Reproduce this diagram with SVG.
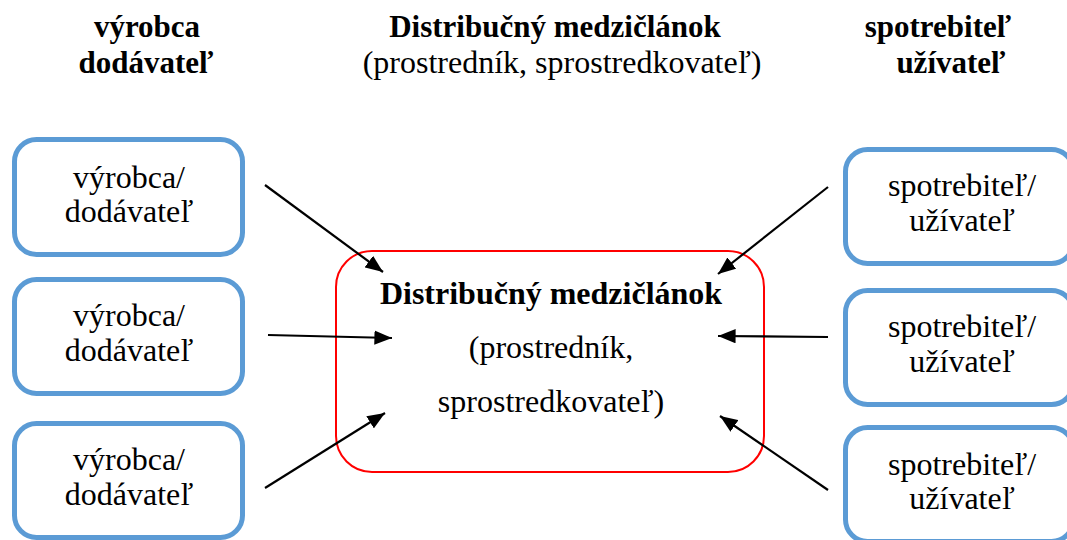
<svg xmlns="http://www.w3.org/2000/svg" width="1067" height="540" viewBox="0 0 1067 540">
<style>
text{font-family:"Liberation Serif","Times New Roman",serif;font-size:32px;fill:#000;text-anchor:middle}
.b{font-weight:bold}
.hb{font-weight:bold;font-size:31px}
.box{fill:#fff;stroke:#5B9BD5;stroke-width:5}
.mid{fill:#fff;stroke:#FF0000;stroke-width:2}
.arr{stroke:#000;stroke-width:2.2;fill:none;marker-end:url(#ah)}
</style>
<defs>
<marker id="ah" viewBox="0 0 10 10" refX="10" refY="5" markerWidth="8" markerHeight="6.5" orient="auto" markerUnits="strokeWidth" preserveAspectRatio="none">
<path d="M0,0 L10,5 L0,10 z" fill="#000"/>
</marker>
</defs>
<rect width="1067" height="540" fill="#fff"/>
<g id="headers">
<text class="hb" x="147" y="37">výrobca</text>
<text class="hb" x="146" y="73">dodávateľ</text>
<text class="hb" x="555" y="37">Distribučný medzičlánok</text>
<text x="562" y="73">(prostredník, sprostredkovateľ)</text>
<text class="hb" x="938" y="37">spotrebiteľ</text>
<text class="hb" x="951" y="73">užívateľ</text>
</g>
<g id="prod1"><rect class="box" x="14.5" y="139.5" width="228" height="115" rx="22"/><text x="129" y="188">výrobca/</text><text x="129" y="222">dodávateľ</text></g>
<g id="prod2"><rect class="box" x="14.5" y="279.5" width="228" height="114" rx="22"/><text x="129" y="326">výrobca/</text><text x="129" y="361">dodávateľ</text></g>
<g id="prod3"><rect class="box" x="14.5" y="423.5" width="228" height="114" rx="22"/><text x="129" y="470">výrobca/</text><text x="129" y="505">dodávateľ</text></g>
<g id="cons1"><rect class="box" x="845.5" y="149.5" width="228" height="114" rx="22"/><text x="962" y="196">spotrebiteľ/</text><text x="962" y="231">užívateľ</text></g>
<g id="cons2"><rect class="box" x="845.5" y="290.5" width="228" height="114" rx="22"/><text x="962" y="337">spotrebiteľ/</text><text x="962" y="372">užívateľ</text></g>
<g id="cons3"><rect class="box" x="845.5" y="427.5" width="228" height="114" rx="22"/><text x="962" y="475">spotrebiteľ/</text><text x="962" y="509">užívateľ</text></g>
<g id="distributor"><rect class="mid" x="336" y="251" width="428" height="221" rx="36"/>
<text class="b" x="551" y="304">Distribučný medzičlánok</text>
<text x="551" y="358">(prostredník,</text>
<text x="551" y="412">sprostredkovateľ)</text></g>
<g id="connectors">
<line class="arr" x1="265" y1="185" x2="383" y2="272"/>
<line class="arr" x1="268" y1="335" x2="392" y2="338"/>
<line class="arr" x1="265" y1="488" x2="385" y2="413"/>
<line class="arr" x1="828" y1="187" x2="718" y2="274"/>
<line class="arr" x1="828" y1="337" x2="718" y2="336"/>
<line class="arr" x1="828" y1="490" x2="720" y2="416"/>
</g>
</svg>
